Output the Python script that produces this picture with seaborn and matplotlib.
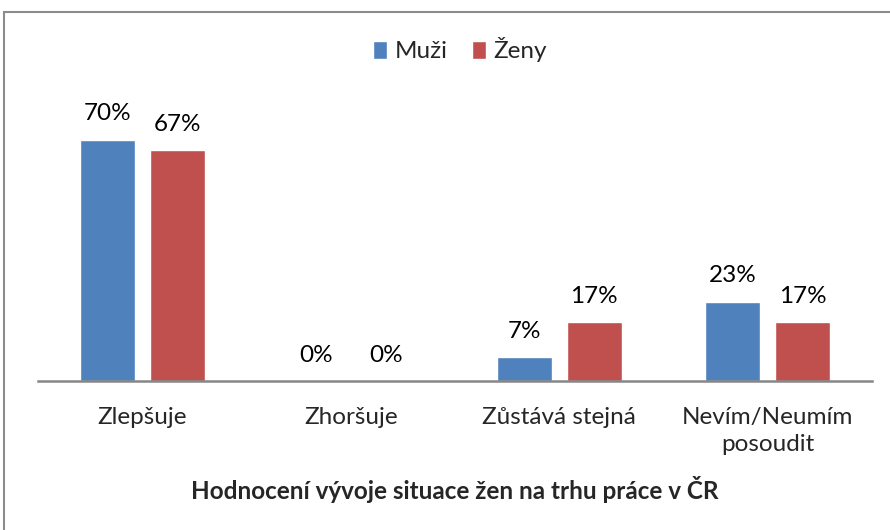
import matplotlib
matplotlib.use("Agg")
import matplotlib.pyplot as plt
import seaborn as sns
import pandas as pd
from matplotlib.patches import Rectangle

categories = ["Zlepšuje", "Zhoršuje", "Zůstává stejná", "Nevím/Neumím\nposoudit"]
series_names = ["Muži", "Ženy"]
muzi = [70, 0, 7, 23]
zeny = [67, 0, 17, 17]
colors = ["#4F81BD", "#C0504D"]
title = "Hodnocení vývoje situace žen na trhu práce v ČR"

df = pd.DataFrame({
    "kat": categories * 2,
    "pohlavi": [series_names[0]] * 4 + [series_names[1]] * 4,
    "hodnota": muzi + zeny,
})

sns.set_theme(style="white")
plt.rcParams["font.family"] = ["Lato", "DejaVu Sans"]

fig = plt.figure(figsize=(8.9, 5.3), dpi=100)
ax = fig.add_axes([38 / 890, 1 - 381 / 530, 834 / 890, 276 / 530])

sns.barplot(data=df, x="kat", y="hodnota", hue="pohlavi", order=categories,
            hue_order=series_names, palette=colors, width=0.67, gap=0.21,
            saturation=1, ax=ax, legend=True)

for cont in ax.containers:
    ax.bar_label(cont, labels=[f"{int(round(v))}%" for v in cont.datavalues],
                 padding=11, fontsize=17.5, color="black")

ax.set_xlim(-0.5, 3.5)
ax.set_ylim(0, 80)
ax.set_yticks([])
ax.set_ylabel("")
ax.set_xlabel(title, fontsize=17.5, fontweight="bold", labelpad=15)
ax.tick_params(axis="x", length=0, pad=19, labelsize=17.5)
for lbl in ax.get_xticklabels():
    lbl.set_linespacing(1.35)
for s in ["top", "right", "left"]:
    ax.spines[s].set_visible(False)
ax.spines["bottom"].set_color("#868686")
ax.spines["bottom"].set_linewidth(1.8)

leg = ax.legend(loc="center", bbox_to_anchor=(460 / 890, 1 - 50 / 530),
                bbox_transform=fig.transFigure, ncol=2, frameon=False,
                fontsize=17.5, handlelength=0.6, handleheight=0.7,
                handletextpad=0.3, columnspacing=1.0)

fig.patches.append(Rectangle((4 / 890, -0.05), 1.0, 1 - 12 / 530 + 0.05,
                             transform=fig.transFigure, fill=False,
                             edgecolor="#8c8c8c", linewidth=1.5))

fig.savefig("out.png", dpi=100)
